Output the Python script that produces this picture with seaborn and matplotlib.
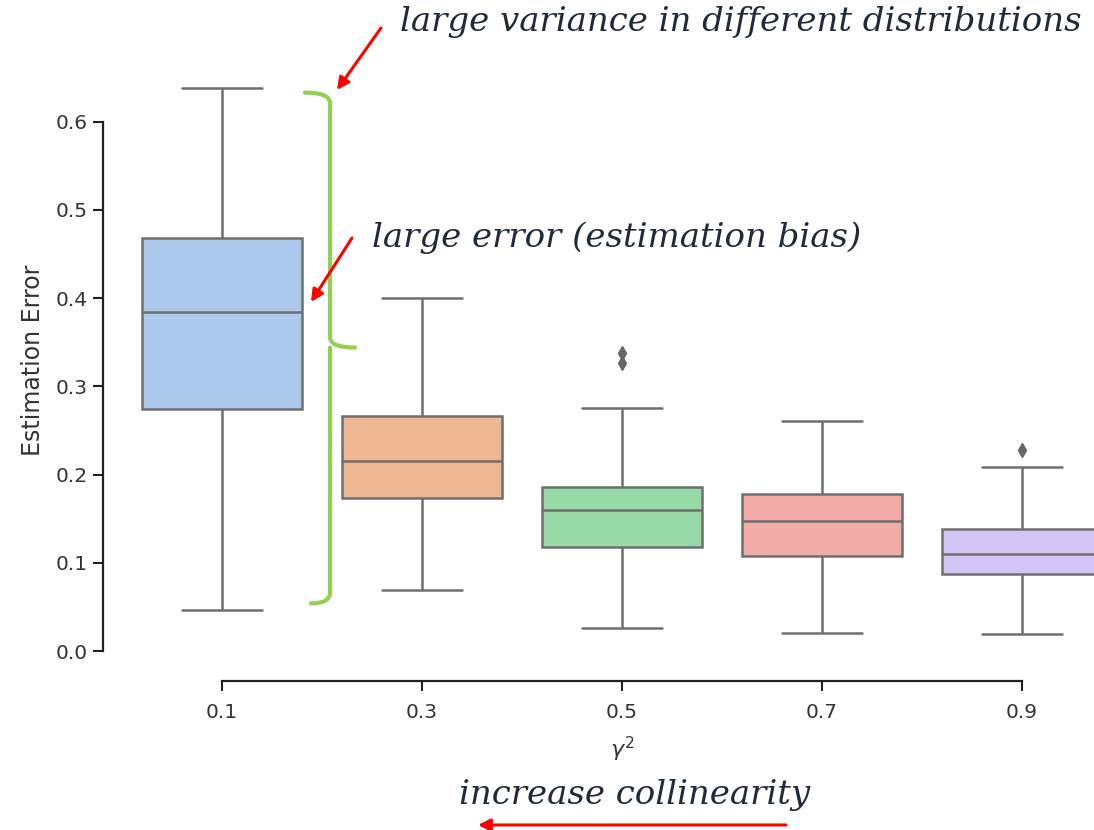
import numpy as np
import pandas as pd
import matplotlib
matplotlib.use("Agg")
import matplotlib.pyplot as plt
import seaborn as sns
from matplotlib.path import Path
from matplotlib.patches import PathPatch

# values (quartiles / whiskers / outliers per group)
gamma_labels = ["0.1", "0.3", "0.5", "0.7", "0.9"]
err_01 = [0.047, 0.274, 0.384, 0.468, 0.638]
err_03 = [0.069, 0.173, 0.215, 0.266, 0.400]
err_05 = [0.026, 0.070, 0.100, 0.118, 0.130, 0.150, 0.160, 0.170, 0.180, 0.186, 0.276, 0.327, 0.338]
err_07 = [0.020, 0.108, 0.147, 0.178, 0.261]
err_09 = [0.019, 0.050, 0.087, 0.100, 0.110, 0.125, 0.138, 0.209, 0.228]

groups = [err_01, err_03, err_05, err_07, err_09]
df = pd.DataFrame({
    "gamma": [g for g, vals in zip(gamma_labels, groups) for _ in vals],
    "err": [v for vals in groups for v in vals],
})

sns.set_theme(style="ticks", palette="pastel")
plt.rcParams["font.family"] = ["DejaVu Sans"]

fig = plt.figure(figsize=(10.94, 8.3), dpi=100)
ax = fig.add_axes([0.1115, 0.2029, 0.9141, 0.7248])

sns.boxplot(data=df, x="gamma", y="err", hue="gamma", palette="pastel",
            order=gamma_labels, legend=False, ax=ax, width=0.8, linewidth=1.8,
            saturation=0.75,
            flierprops=dict(marker="d", markersize=7, markerfacecolor="#666666",
                            markeredgecolor="#666666"))

ax.set_ylim(-0.012, 0.67)
ax.set_xlim(-0.5, 4.5)
ax.set_yticks([0.0, 0.1, 0.2, 0.3, 0.4, 0.5, 0.6])
ax.set_xlabel(r"$\gamma^2$", fontsize=16, color="#333333", labelpad=9)
ax.set_ylabel("Estimation Error", fontsize=17, color="#333333", labelpad=8)
ax.tick_params(labelsize=14.5, length=7, width=1.5, colors="#222222")
ax.tick_params(axis="x", pad=9)
ax.tick_params(labelcolor="#333333")
for s in ["left", "bottom"]:
    ax.spines[s].set_linewidth(1.6)
    ax.spines[s].set_color("#222222")
sns.despine(ax=ax, offset=14, trim=True)

# green brace
bx, tipx, hookx = 0.54, 0.665, 0.415
ytop, ybot, ymid = 0.633, 0.054, 0.344
verts = [(hookx, ytop), (bx, ytop), (bx, ytop - 0.012),
         (bx, ymid + 0.012), (bx, ymid), (tipx, ymid),
         (bx, ymid), (bx, ymid - 0.012),
         (bx, ybot + 0.012), (bx, ybot), (hookx + 0.03, ybot)]
codes = [Path.MOVETO, Path.CURVE3, Path.CURVE3,
         Path.LINETO, Path.CURVE3, Path.CURVE3,
         Path.MOVETO, Path.CURVE3,
         Path.LINETO, Path.CURVE3, Path.CURVE3]
ax.add_patch(PathPatch(Path(verts, codes), fill=False, color="#92d050",
                       lw=3, clip_on=False, capstyle="round"))

# red arrows and annotations
def fx(px):
    return px / 1094


def fy(py):
    return 1 - py / 830


serif = dict(family="DejaVu Serif", style="italic", color="#1f2a3a", fontsize=24.5)
red = dict(arrowstyle="-|>", color="#ff0000", lw=2.2, mutation_scale=18,
           shrinkA=0, shrinkB=0)

fig.text(fx(400), fy(22), "large variance in different distributions",
         va="center", ha="left", **serif)
fig.text(fx(372), fy(238), "large error (estimation bias)",
         va="center", ha="left", **serif)
fig.text(fx(635), fy(795), "increase collinearity",
         va="center", ha="center", **serif)

ax.annotate("", xy=(fx(337), fy(90)), xytext=(fx(381), fy(28)),
            xycoords="figure fraction", textcoords="figure fraction", arrowprops=red)
ax.annotate("", xy=(fx(311), fy(302)), xytext=(fx(352), fy(238)),
            xycoords="figure fraction", textcoords="figure fraction", arrowprops=red)
ax.annotate("", xy=(fx(478), fy(825)), xytext=(fx(786), fy(825)),
            xycoords="figure fraction", textcoords="figure fraction", arrowprops=red)

fig.savefig("out.png", dpi=100)
